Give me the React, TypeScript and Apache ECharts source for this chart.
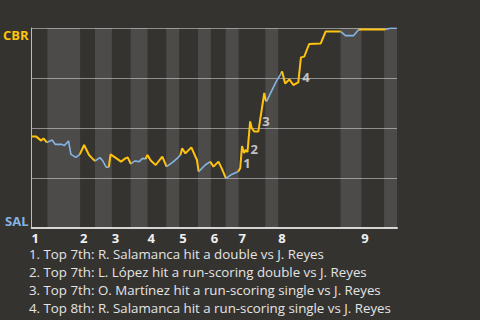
import React, { useEffect, useRef } from "react";
import * as echarts from "echarts";

// ---- data ----
const topTeam = "CBR";
const bottomTeam = "SAL";
const innings = ["1", "2", "3", "4", "5", "6", "7", "8", "9"];
// game-progress positions of half-inning boundaries (top1, bot1, top2, ...)
const halfInningBounds = [0, 16, 49, 64, 81, 100, 117, 136, 149, 168, 181, 196, 209, 236, 249, 312, 333, 356, 369];
// number of plays in each half-inning
const halfInningPlayCounts = [5, 8, 4, 4, 6, 4, 5, 3, 5, 2, 4, 2, 12, 3, 11, 3, 3, 2];
// play positions (game progress) and CBR win probability (%) after each play
const playX = [
  0, 4.7, 9.7, 12, 15.3,
  20.7, 24, 30.7, 33, 37.3, 39.7, 44.7, 48.7,
  53, 58, 61.3, 64,
  69, 72, 75.3, 78,
  79.7, 85.7, 90.3, 94.7, 97, 100.3,
  104, 108.7, 112, 115,
  117, 120.3, 125.3, 132, 136.3,
  142, 147, 150.3,
  152, 155.3, 161.3, 167, 168.7,
  175.3, 180.3,
  183.7, 188.7, 192, 196.3,
  202, 208.7,
  210.7, 212.5, 214.5, 216, 218, 220.7, 222.3, 224.7, 229, 235, 236.3, 237.3,
  242, 247, 252,
  253, 256, 260.3, 264.3, 269.3, 272, 275.3, 280.3, 292, 297, 312,
  317, 325.3, 330.3,
  333.7, 345, 357,
  362, 368.7,
];
const playWp = [
  45.7, 45.7, 43.7, 44.8, 42.8,
  44, 41.8, 41.8, 41.2, 43.5, 36.8, 35.3, 36.8,
  41.5, 36.5, 34.8, 33.5,
  35.2, 33.5, 30.4, 30.4,
  36.8, 34.8, 33.2, 34.8, 35.3, 32,
  33.5, 33.2, 34.8, 34.5,
  36.5, 33.7, 31.5, 35.7, 30.7,
  32.7, 34.8, 36.5,
  39.8, 37.3, 40.3, 34, 28.2,
  31.5, 33.2,
  30.7, 33.2, 29.8, 24.8,
  26.8, 28.2,
  30, 41, 37.5, 39, 38, 53.3, 50, 48.3, 48.3, 67.5, 64.2, 63.3,
  68.2, 73.2, 77.3,
  78.2, 72.3, 74.3, 71.5, 72.8, 85.3, 85.7, 92, 92.3, 98.3, 98.3,
  96.2, 96.2, 99.2,
  99.2, 99.2, 99.2,
  99.9, 99.9,
];
// key plays (index of the play just before the big swing)
const eventPlayIndex = [52, 56, 60, 71];
const eventNotes = [
  "Top 7th: R. Salamanca hit a double vs J. Reyes",
  "Top 7th: L. López hit a run-scoring double vs J. Reyes",
  "Top 7th: O. Martínez hit a run-scoring single vs J. Reyes",
  "Top 8th: R. Salamanca hit a run-scoring single vs J. Reyes",
];

// ---- styles ----
const YELLOW = "#ffc20e";
const BLUE = "#85b4e3";
const BG = "#353330";
const FONT = "'Open Sans', 'Noto Sans', sans-serif";
const eventLabelOffsets = [[0, -5], [0, -3], [1, -10], [1, -5]];

export default function App() {
  const ref = useRef<HTMLDivElement>(null);

  useEffect(() => {
    if (!ref.current) return;
    const chart = echarts.init(ref.current, null, { renderer: "svg" });

    const series: any[] = [];
    // shaded bottom-half-inning bands
    const bands: any[] = [];
    for (let h = 1; h < halfInningBounds.length - 1; h += 2) {
      bands.push([{ xAxis: halfInningBounds[h] }, { xAxis: halfInningBounds[h + 1] }]);
    }
    series.push({
      type: "line",
      data: [],
      z: 1,
      silent: true,
      markArea: {
        silent: true,
        itemStyle: { color: "rgba(255,255,255,0.12)" },
        data: bands,
      },
    });

    let idx = 0;
    halfInningPlayCounts.forEach((n, h) => {
      const pts: number[][] = [];
      if (idx > 0) pts.push([playX[idx - 1], playWp[idx - 1]]);
      for (let i = idx; i < idx + n; i++) pts.push([playX[i], playWp[i]]);
      idx += n;
      const isTop = h % 2 === 0;
      series.push({
        type: "line",
        data: pts,
        symbol: "none",
        showSymbol: false,
        silent: true,
        z: 3,
        lineStyle: { color: isTop ? YELLOW : BLUE, width: isTop ? 2 : 1.6 },
      });
    });

    series.push({
      type: "scatter",
      symbolSize: 0,
      silent: true,
      z: 4,
      data: eventPlayIndex.map((pi, k) => ({
        value: [playX[pi], playWp[pi]],
        label: { offset: eventLabelOffsets[k] },
      })),
      label: {
        show: true,
        position: "right",
        distance: 3,
        formatter: (p: any) => String(p.dataIndex + 1),
        color: "#e8e8e8",
        fontWeight: "bold",
        fontSize: 13,
        fontFamily: FONT,
      },
    });

    const inningStarts = innings.map((_, i) => halfInningBounds[i * 2]);

    chart.setOption({
      animation: false,
      backgroundColor: BG,
      grid: { left: 28, right: 83, top: 28, bottom: 92, containLabel: false },
      xAxis: {
        type: "value",
        min: 0,
        max: halfInningBounds[halfInningBounds.length - 1],
        splitLine: { show: false },
        axisTick: { show: false },
        axisLine: { show: true, lineStyle: { color: "#d4d4d4", width: 2 } },
        axisLabel: {
          customValues: inningStarts,
          formatter: (v: number) => {
            const i = inningStarts.indexOf(v);
            return i >= 0 ? innings[i] : "";
          },
          align: "left",
          margin: 3,
          lineHeight: 13,
          color: "#f0f0f0",
          fontWeight: "bold",
          fontSize: 13,
          fontFamily: FONT,
        },
      },
      yAxis: {
        type: "value",
        min: 0,
        max: 100,
        interval: 25,
        axisTick: { show: false },
        axisLine: { show: true, lineStyle: { color: "#bdbdbd", width: 1 } },
        splitLine: { show: true, lineStyle: { color: "#8e8e8e", width: 1 } },
        axisLabel: {
          margin: 3,
          formatter: (v: number) => (v === 100 ? "{c|" + topTeam + "}" : v === 0 ? "{s|" + bottomTeam + "}" : ""),
          rich: {
            c: { color: YELLOW, fontWeight: "bold", fontSize: 13, fontFamily: FONT, padding: [14, 0, 0, 0] },
            s: { color: BLUE, fontWeight: "bold", fontSize: 13, fontFamily: FONT, padding: [0, 0, 14, 0] },
          },
        },
      },
      graphic: eventNotes.map((t, i) => ({
        type: "text",
        x: 29,
        y: 254 + i * 18,
        silent: true,
        style: {
          text: `${i + 1}. ${t}`,
          fill: "#e4e4e4",
          fontSize: 13.3,
          lineHeight: 14,
          fontFamily: FONT,
          verticalAlign: "middle",
        },
      })),
      series,
    });

    return () => chart.dispose();
  }, []);

  return (
    <div
      ref={ref}
      style={{ position: "fixed", left: 0, top: 0, width: 480, height: 320 }}
    />
  );
}
